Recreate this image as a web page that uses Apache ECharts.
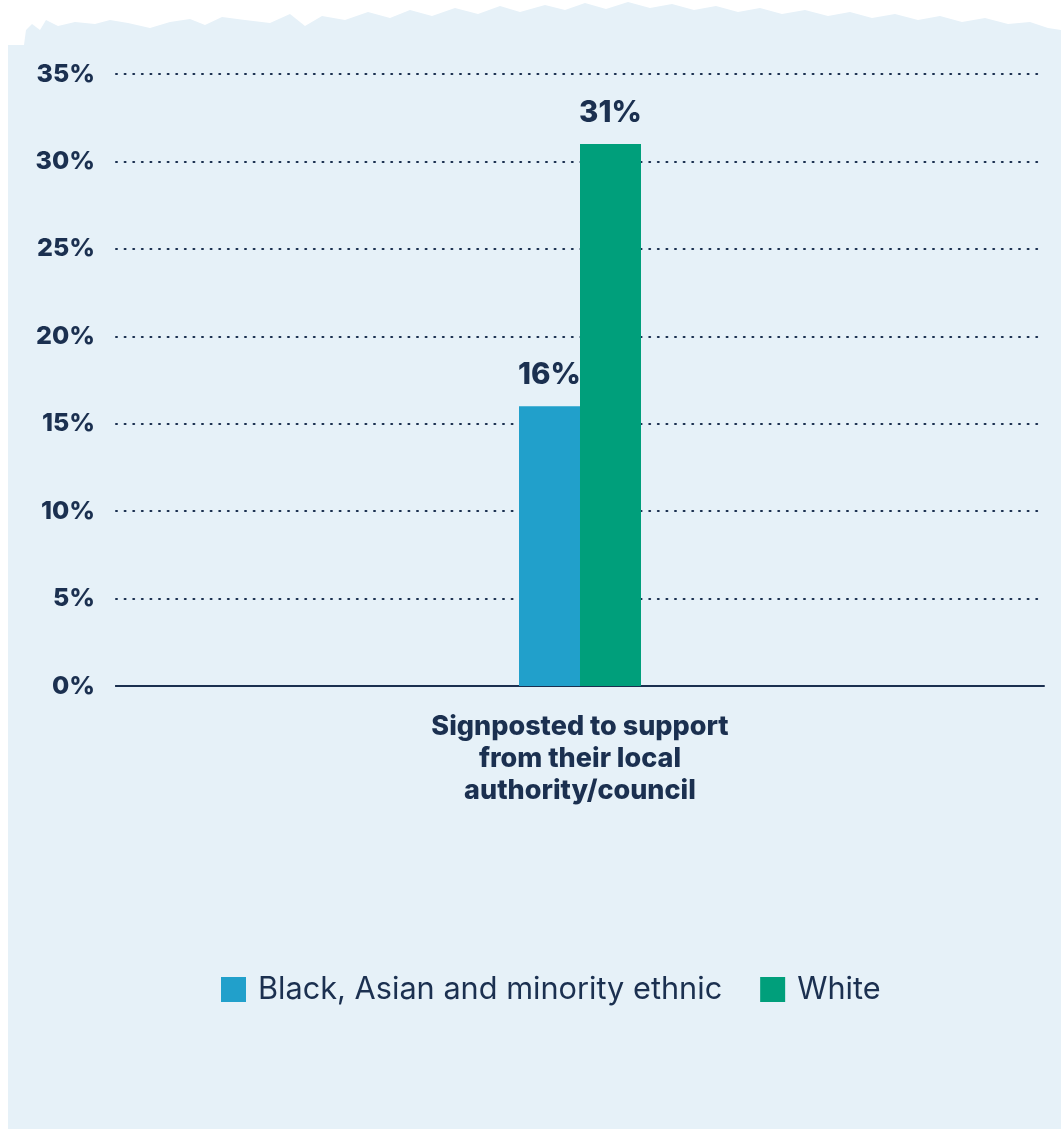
<!DOCTYPE html>
<html>
<head>
<meta charset="utf-8">
<script src="https://cdn.jsdelivr.net/npm/echarts@6/dist/echarts.min.js"></script>
<style>
  html, body { margin: 0; padding: 0; background: #ffffff; }
  #chart { width: 1061px; height: 1129px; }
</style>
</head>
<body>
<div id="chart"></div>
<script>
// Share of respondents signposted to local-authority support, by ethnicity
const categories = ['Signposted to support\nfrom their local\nauthority/council'];
const seriesNames = ['Black, Asian and minority ethnic', 'White'];
const bameValues = [16];
const whiteValues = [31];
const yTicks = [0, 5, 10, 15, 20, 25, 30, 35];

const NAVY = '#1b3050';
const BLUE = '#21a0cb';
const GREEN = '#009f7b';
const PANEL = '#e6f1f8';

// Rough torn-paper top edge of the background panel
const edge = [
  [8, 1129], [8, 45], [24, 45], [26, 30], [32, 24], [40, 30], [46, 20], [58, 26],
  [75, 22], [95, 24], [110, 20], [128, 23], [150, 28], [170, 22], [190, 19],
  [205, 25], [222, 17], [245, 20], [270, 23], [290, 14], [305, 26], [322, 16],
  [345, 20], [368, 12], [390, 18], [410, 10], [432, 16], [455, 8], [478, 14],
  [500, 6], [520, 12], [545, 5], [565, 10], [585, 3], [606, 9], [628, 2],
  [650, 8], [672, 4], [694, 10], [716, 6], [738, 12], [760, 8], [782, 14],
  [805, 10], [828, 16], [850, 12], [872, 18], [895, 14], [918, 20], [940, 16],
  [962, 22], [985, 18], [1008, 24], [1030, 22], [1048, 28], [1061, 30], [1061, 1129]
];

const chart = echarts.init(document.getElementById('chart'), null, { renderer: 'canvas' });

const valueLabel = {
  show: true,
  position: 'top',
  distance: 16,
  color: NAVY,
  fontSize: 29.5,
  fontWeight: 800,
  fontFamily: 'Inter',
  formatter: p => p.value + '%'
};

chart.setOption({
  backgroundColor: '#ffffff',
  animation: false,
  graphic: [{
    type: 'polygon',
    z: -10,
    silent: true,
    shape: { points: edge },
    style: { fill: PANEL }
  }],
  grid: { left: 116, right: 17, top: 74, bottom: 443, containLabel: false },
  legend: {
    data: seriesNames,
    bottom: 119,
    left: 216,
    itemWidth: 25,
    itemHeight: 25,
    itemGap: 38,
    icon: 'rect',
    textStyle: {
      color: NAVY,
      fontSize: 30.7,
      fontFamily: 'Inter',
      fontWeight: 400,
      padding: [0, 0, 0, 7]
    }
  },
  xAxis: {
    type: 'category',
    data: categories,
    axisLine: { show: true, lineStyle: { color: NAVY, width: 2 } },
    axisTick: { show: false },
    axisLabel: {
      color: NAVY,
      fontSize: 27,
      fontWeight: 800,
      fontFamily: 'Inter',
      lineHeight: 32,
      margin: 25,
      align: 'center'
    }
  },
  yAxis: {
    type: 'value',
    min: 0,
    max: 35,
    interval: 5,
    axisLine: { show: false },
    axisTick: { show: false },
    axisLabel: {
      color: NAVY,
      fontSize: 25,
      fontWeight: 800,
      fontFamily: 'Inter',
      margin: 21,
      formatter: v => (yTicks.includes(v) ? v + '%' : '')
    },
    splitLine: {
      show: true,
      lineStyle: { color: NAVY, width: 2, type: [1, 7.6], cap: 'round' }
    }
  },
  series: [
    {
      name: seriesNames[0],
      type: 'bar',
      data: bameValues,
      barWidth: 61,
      barGap: '0%',
      itemStyle: { color: BLUE },
      label: valueLabel
    },
    {
      name: seriesNames[1],
      type: 'bar',
      data: whiteValues,
      barWidth: 61,
      barGap: '0%',
      itemStyle: { color: GREEN },
      label: valueLabel
    }
  ]
});
</script>
</body>
</html>
